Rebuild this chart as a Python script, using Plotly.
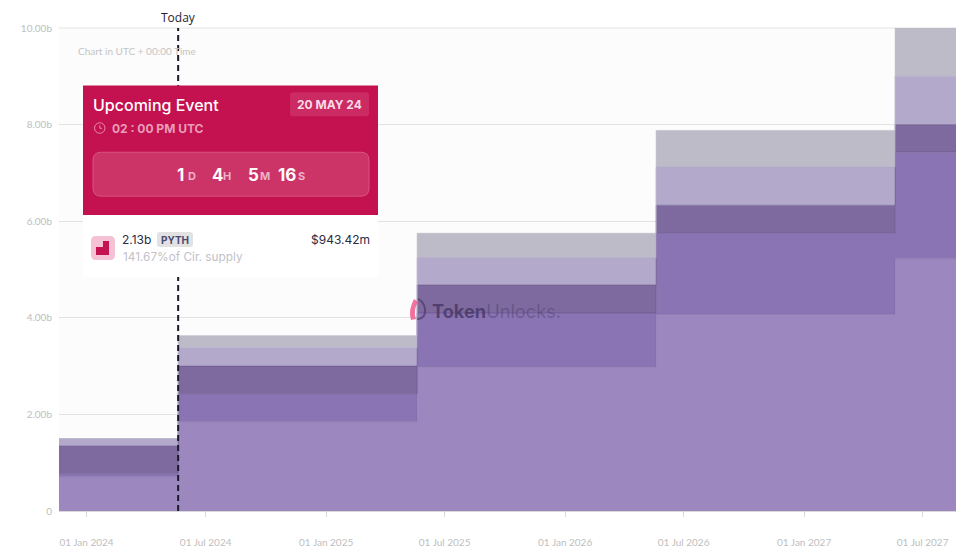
import plotly.graph_objects as go

step_dates = ["2023-11-20", "2024-05-20", "2025-05-20", "2026-05-20", "2027-05-20", "2027-08-21"]
base_band = [0.71, 1.85, 2.97, 4.08, 5.22, 5.22]
mid_band = [0.065, 0.58, 1.13, 1.67, 2.21, 2.21]
dark_band = [0.575, 0.57, 0.58, 0.58, 0.57, 0.57]
light_band = [0.15, 0.38, 0.56, 0.79, 1.00, 1.00]
grey_band = [0.0, 0.25, 0.51, 0.76, 1.00, 1.00]
band_names = ["Base", "Mid", "Dark", "Light", "Grey"]
band_fills = ["rgba(152,131,188,0.96)", "rgba(133,110,176,0.96)", "rgba(121,100,155,0.96)",
              "rgba(176,165,201,0.96)", "rgba(186,184,197,0.96)"]
band_lines = ["rgba(110,90,150,0.5)", "rgba(90,70,125,0.7)", "rgba(90,70,125,0.7)", "rgba(176,165,201,0.9)", "rgba(186,184,197,0.9)"]
y_ticks = [0, 2, 4, 6, 8, 10]
y_labels = ["0", "2.00b", "4.00b", "6.00b", "8.00b", "10.00b"]

W, H = 973, 551
L, R, T, B = 59, 956, 27.5, 511.5

def px(x):
    return (x - L) / (R - L)

def py(y):
    return (B - y) / (B - T)

def rrect(x0, y0, x1, y1, r):
    a0, a1 = px(x0), px(x1)
    b0, b1 = py(y0), py(y1)
    rx, ry = r / (R - L), r / (B - T)
    return (f"M {a0+rx} {b0} L {a1-rx} {b0} Q {a1} {b0} {a1} {b0-ry} L {a1} {b1+ry} Q {a1} {b1} {a1-rx} {b1} "
            f"L {a0+rx} {b1} Q {a0} {b1} {a0} {b1+ry} L {a0} {b0-ry} Q {a0} {b0} {a0+rx} {b0} Z")

def box(x0, y0, x1, y1, fill, line=None):
    return dict(type="rect", xref="paper", yref="paper", x0=px(x0), x1=px(x1), y0=py(y1), y1=py(y0),
                fillcolor=fill, line=dict(width=0 if not line else 1, color=line or fill), layer="above")

def rounded(x0, y0, x1, y1, r, fill, line=None):
    return dict(type="path", xref="paper", yref="paper", path=rrect(x0, y0, x1, y1, r),
                fillcolor=fill, line=dict(width=0 if not line else 1, color=line or fill), layer="above")

def path(points, fill="rgba(0,0,0,0)", line=None, width=0):
    return dict(type="path", xref="paper", yref="paper", layer="above", fillcolor=fill,
                line=dict(width=width, color=line or fill),
                path=points)

def label(x, y, text, size, color, anchor="left", family="Inter", weight=None):
    f = dict(size=size, color=color, family=family)
    if weight:
        f["weight"] = weight
    return dict(xref="paper", yref="paper", x=px(x), y=py(y), text=text, showarrow=False, xanchor=anchor,
                yanchor="middle", borderpad=0, font=f)

fig = go.Figure()
for name, vals, fc, lc in zip(band_names, [base_band, mid_band, dark_band, light_band, grey_band], band_fills, band_lines):
    fig.add_trace(go.Scatter(x=step_dates, y=vals, name=name, mode="lines", stackgroup="one",
                             line=dict(shape="hv", width=0.6, color=lc), fillcolor=fc, showlegend=False,
                             hoverinfo="skip"))

shapes = [
    dict(type="line", xref="paper", yref="paper", x0=0, x1=1, y0=1, y1=1,
         line=dict(color="#e2e2e2", width=1), layer="below"),
    dict(type="line", xref="x", yref="paper", x0="2024-05-20", x1="2024-05-20", y0=0, y1=1,
         line=dict(color="#1a1a2a", width=2, dash="6px,4px"), layer="above"),
    box(83, 215, 378, 277, "#ffffff"),
    box(83, 85, 378, 215, "#c4114f"),
    rounded(290, 92, 369, 116, 3, "#cc2a62"),
    rounded(93, 152, 369, 196, 8, "#cc3468", "#d9557f"),
    dict(type="circle", xref="paper", yref="paper", x0=px(94.5), x1=px(105), y0=py(133), y1=py(122.5),
         line=dict(color="#e88aab", width=1), fillcolor="rgba(0,0,0,0)", layer="above"),
    path(f"M {px(99.8)} {py(125)} L {px(99.8)} {py(128)} L {px(102)} {py(128)}", line="#e88aab", width=1),
    rounded(91, 236, 115, 260, 5, "#f5c2d5"),
    path(f"M {px(96)} {py(247)} L {px(103)} {py(247)} L {px(103)} {py(241)} L {px(109)} {py(241)} "
         f"L {px(109)} {py(255)} L {px(96)} {py(255)} Z", fill="#c4114f"),
    rounded(157, 232, 193, 247, 3, "#e2e2e2"),
    path(f"M {px(414)} {py(299)} Q {px(408)} {py(310)} {px(411)} {py(320)} L {px(416)} {py(319)} "
         f"Q {px(413)} {py(310)} {px(418)} {py(302)} Z", fill="rgba(238,90,140,0.85)"),
    path(f"M {px(417)} {py(319)} Q {px(426)} {py(319)} {px(425)} {py(309)} Q {px(424)} {py(302)} {px(418)} {py(299)}",
         line="rgba(70,50,90,0.6)", width=2),
]

annotations = [
    label(178, 16.5, "Today", 12, "#1f1f33", "center", "Open Sans"),
    label(76.5, 50.5, "Chart in UTC + 00:00 Time", 10, "#c4c4c4", "left", "Lato"),
    label(91.5, 104.5, "Upcoming Event", 16, "#ffffff", weight=500),
    label(329.5, 104, "<b>20 MAY 24</b>", 12, "#f8dbe5", "center"),
    label(111, 128, "<b>02 : 00 PM UTC</b>", 12, "#ea9dbb"),
    label(176, 174.5, "<b>1</b>", 17, "#ffffff"),
    label(187, 175.5, "<b>D</b>", 11, "#eeb1c7"),
    label(211, 174.5, "<b>4</b>", 17, "#ffffff"),
    label(222, 175.5, "<b>H</b>", 11, "#eeb1c7"),
    label(247, 174.5, "<b>5</b>", 17, "#ffffff"),
    label(259, 175.5, "<b>M</b>", 11, "#eeb1c7"),
    label(277, 174.5, "<b>16</b>", 17, "#ffffff"),
    label(297, 175.5, "<b>S</b>", 11, "#eeb1c7"),
    label(121, 239, "2.13b", 12, "#2b2b45"),
    label(160, 239.5, "<b>PYTH</b>", 10, "#4a4a70"),
    label(371, 239, "$943.42m", 12, "#2b2b45", "right"),
    label(121.5, 257, "141.67%of Cir. supply", 11.8, "#c2c2ca"),
    label(430.5, 311.5, "<b>Token</b><span style='color:rgba(75,60,105,0.62)'>Unlocks.</span>", 18.2, "rgba(62,48,92,0.72)", "left", "Inter"),
]

fig.update_layout(
    width=W, height=H, autosize=False,
    margin=dict(l=L, r=W - R, t=T, b=H - B, pad=0),
    paper_bgcolor="#ffffff", plot_bgcolor="#fcfcfc",
    shapes=shapes, annotations=annotations, showlegend=False, hovermode=False,
    xaxis=dict(type="date", range=[step_dates[0], step_dates[-1]], tick0="2024-01-01", dtick="M6",
               tickformat="%d %b %Y", ticks="outside", ticklen=5, tickcolor="#d8d8d8", tickwidth=1,
               showgrid=False, showline=True, linecolor="#d8d8d8", linewidth=1, zeroline=False,
               ticklabelstandoff=17, automargin=False,
               tickfont=dict(size=10, color="#bebebe", family="Lato")),
    yaxis=dict(range=[0, 10], tickvals=y_ticks, ticktext=y_labels, showgrid=True, gridcolor="#e2e2e2",
               gridwidth=1, zeroline=False, showline=False, ticks="", automargin=False, ticklabelstandoff=6,
               tickfont=dict(size=10, color="#bebebe", family="Lato")),
)

fig.write_html("out.html", config={"displayModeBar": False},
               post_script="document.body.style.margin='0';")
